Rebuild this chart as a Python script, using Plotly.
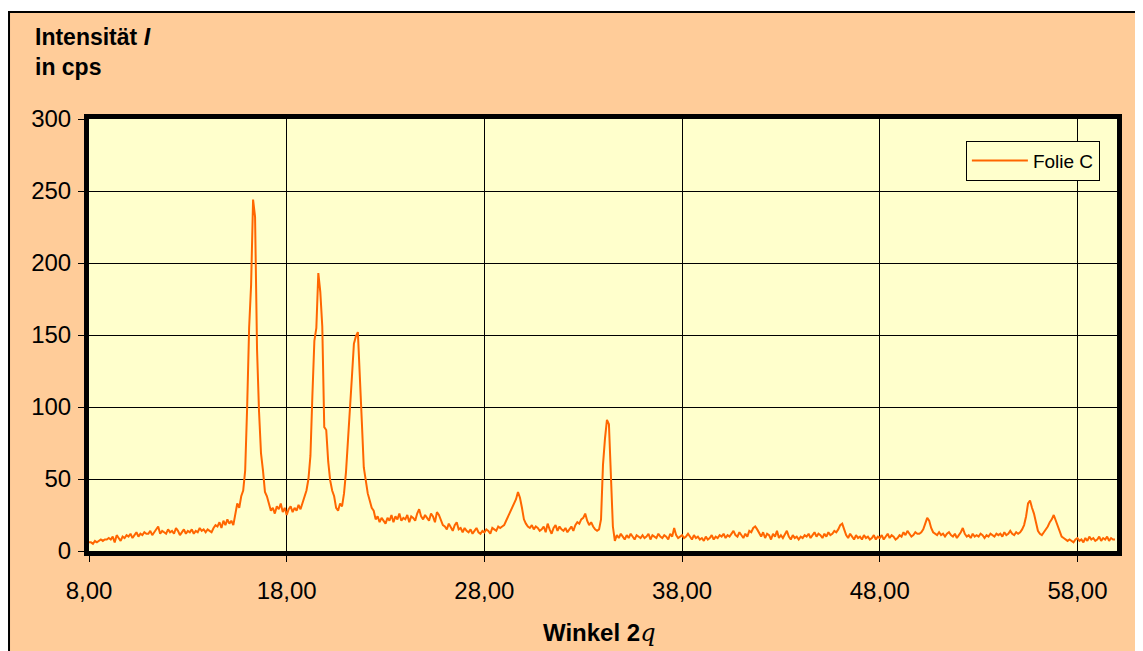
import numpy as np
import plotly.graph_objects as go

# 2-theta grid: start and step of the measurement (degrees)
angle_start = 8.0
angle_step = 0.1

# Intensity in cps, one row per degree (10 steps of 0.1 deg)
intensity_rows = [
    [6, 6, 5, 7, 6, 7, 8, 7, 8, 8],            # 8
    [9, 8, 10, 6, 11, 9, 7, 10, 9, 11],        # 9
    [10, 12, 9, 11, 13, 10, 12, 11, 13, 12],   # 10
    [12, 14, 11, 13, 15, 17, 12, 14, 13, 12],  # 11
    [15, 13, 14, 12, 16, 14, 11, 13, 15, 12],  # 12
    [14, 13, 15, 12, 14, 13, 16, 14, 15, 13],  # 13
    [15, 14, 13, 16, 18, 17, 20, 16, 21, 18],  # 14
    [22, 19, 21, 18, 25, 33, 30, 38, 42, 56],  # 15
    [100, 155, 185, 244, 232, 140, 97, 68, 56, 41],  # 16
    [38, 33, 28, 30, 26, 31, 29, 33, 27, 30],  # 17
    [25, 29, 31, 27, 30, 28, 32, 29, 33, 37],  # 18
    [42, 50, 66, 108, 146, 155, 193, 180, 156, 86],  # 19
    [84, 62, 49, 42, 38, 30, 28, 33, 31, 40],  # 20
    [55, 77, 103, 121, 144, 149, 152, 115, 90, 58],  # 21
    [47, 40, 35, 30, 28, 22, 24, 20, 23, 21],  # 22
    [19, 23, 21, 25, 20, 24, 22, 26, 21, 23],  # 23
    [22, 25, 20, 24, 23, 21, 26, 29, 24, 22],  # 24
    [25, 23, 21, 26, 24, 20, 27, 25, 22, 18],  # 25
    [17, 15, 19, 16, 14, 18, 20, 15, 16, 13],  # 26
    [16, 14, 13, 15, 12, 14, 16, 13, 12, 14],  # 27
    [13, 15, 14, 12, 16, 15, 14, 17, 16, 17],  # 28
    [18, 21, 24, 27, 30, 33, 36, 41, 37, 30],  # 29
    [22, 19, 17, 16, 18, 15, 17, 16, 14, 15],  # 30
    [17, 13, 19, 15, 12, 16, 18, 14, 17, 15],  # 31
    [14, 16, 13, 15, 17, 14, 18, 20, 19, 22],  # 32
    [23, 26, 21, 18, 20, 17, 15, 14, 15, 22],  # 33
    [60, 78, 91, 88, 50, 17, 7, 11, 9, 12],    # 34
    [10, 8, 11, 9, 12, 10, 8, 11, 10, 9],      # 35
    [11, 9, 10, 12, 8, 11, 10, 9, 12, 10],     # 36
    [9, 11, 10, 8, 12, 10, 16, 11, 9, 10],     # 37
    [11, 9, 10, 12, 10, 8, 11, 9, 10, 8],      # 38
    [9, 7, 10, 8, 9, 11, 8, 10, 9, 11],        # 39
    [10, 12, 9, 11, 10, 12, 14, 11, 10, 13],   # 40
    [11, 9, 12, 10, 14, 13, 16, 17, 15, 12],   # 41
    [10, 13, 9, 12, 11, 8, 12, 10, 14, 9],     # 42
    [11, 9, 12, 14, 10, 8, 11, 9, 10, 8],      # 43
    [10, 9, 11, 10, 12, 9, 11, 13, 10, 12],    # 44
    [11, 9, 12, 10, 13, 11, 12, 14, 13, 15],   # 45
    [18, 19, 15, 11, 9, 12, 10, 8, 11, 9],     # 46
    [10, 8, 11, 9, 10, 8, 9, 11, 8, 10],       # 47
    [9, 11, 8, 10, 12, 9, 11, 10, 8, 9],       # 48
    [11, 10, 13, 11, 14, 12, 10, 11, 13, 12],  # 49
    [12, 13, 15, 19, 23, 21, 16, 13, 12, 11],  # 50
    [13, 11, 12, 10, 12, 13, 11, 10, 12, 9],   # 51
    [11, 13, 16, 12, 10, 11, 9, 12, 10, 11],   # 52
    [10, 12, 11, 9, 11, 10, 12, 11, 10, 12],   # 53
    [11, 12, 10, 13, 11, 12, 14, 12, 11, 13],  # 54
    [12, 13, 15, 18, 24, 33, 35, 30, 26, 20],  # 55
    [14, 12, 11, 13, 15, 17, 20, 22, 25, 21],  # 56
    [17, 13, 10, 9, 8, 7, 8, 7, 6, 8],         # 57
    [9, 7, 8, 6, 9, 7, 10, 8, 9, 7],           # 58
    [8, 10, 7, 9, 8, 10, 7, 9, 8, 8],          # 59
]
intensity = [v for row in intensity_rows for v in row]
angle = [round(angle_start + i * angle_step, 2) for i in range(len(intensity))]

series_name = "Folie C"
x_ticks = [8, 18, 28, 38, 48, 58]
x_tick_labels = ["8,00", "18,00", "28,00", "38,00", "48,00", "58,00"]
y_ticks = [0, 50, 100, 150, 200, 250, 300]

FONT = "Liberation Sans, Arial, sans-serif"

fig = go.Figure()
fig.add_trace(go.Scatter(
    x=angle, y=intensity, mode="lines", name=series_name,
    line=dict(color="#FF6600", width=2),
))

fig.update_layout(
    width=1143, height=651,
    margin=dict(l=81, r=34, t=111, b=108),
    paper_bgcolor="white",
    plot_bgcolor="rgba(0,0,0,0)",
    font=dict(family=FONT, color="black"),
    showlegend=True,
    legend=dict(
        x=0.853, y=0.95, xanchor="left", yanchor="top",
        bgcolor="#FFFFCC", bordercolor="black", borderwidth=1,
        font=dict(size=19, family=FONT), itemwidth=56,
    ),
    shapes=[
        dict(type="rect", xref="paper", yref="paper",
             x0=-0.0778, x1=1.05, y0=-0.3, y1=1.2477,
             fillcolor="#FFCC99", line=dict(color="black", width=2), layer="below"),
        dict(type="rect", xref="paper", yref="paper",
             x0=0, x1=1, y0=0, y1=1,
             fillcolor="#FFFFCC", line=dict(width=0), layer="below"),
    ],
    annotations=[
        dict(text="<b>Intensität <i>I</i></b><br><b>in cps</b>",
             xref="paper", yref="paper", x=-0.0545, y=1.225,
             xanchor="left", yanchor="top", align="left", showarrow=False,
             font=dict(size=23, family=FONT)),
        dict(text="<b>Winkel 2</b><span style=\"font-family:'DejaVu Serif', serif\"><i>q</i></span>",
             xref="paper", yref="paper", x=0.497, y=-0.19,
             xanchor="center", yanchor="middle", showarrow=False,
             font=dict(size=24, family=FONT)),
    ],
)

fig.update_xaxes(
    range=[8, 60], tickvals=x_ticks, ticktext=x_tick_labels,
    showgrid=True, gridcolor="black", gridwidth=1,
    showline=True, linecolor="black", linewidth=5, mirror=True,
    ticks="outside", ticklen=6, tickcolor="black", tickwidth=1,
    tickfont=dict(size=24, family=FONT), ticklabelstandoff=8,
    zeroline=False,
)
fig.update_yaxes(
    range=[0, 300], tickvals=y_ticks,
    showgrid=True, gridcolor="black", gridwidth=1,
    showline=True, linecolor="black", linewidth=5, mirror=True,
    ticks="outside", ticklen=6, tickcolor="black", tickwidth=1,
    tickfont=dict(size=24, family=FONT), ticklabelstandoff=2,
    zeroline=False,
)

fig.write_html("out.html")
